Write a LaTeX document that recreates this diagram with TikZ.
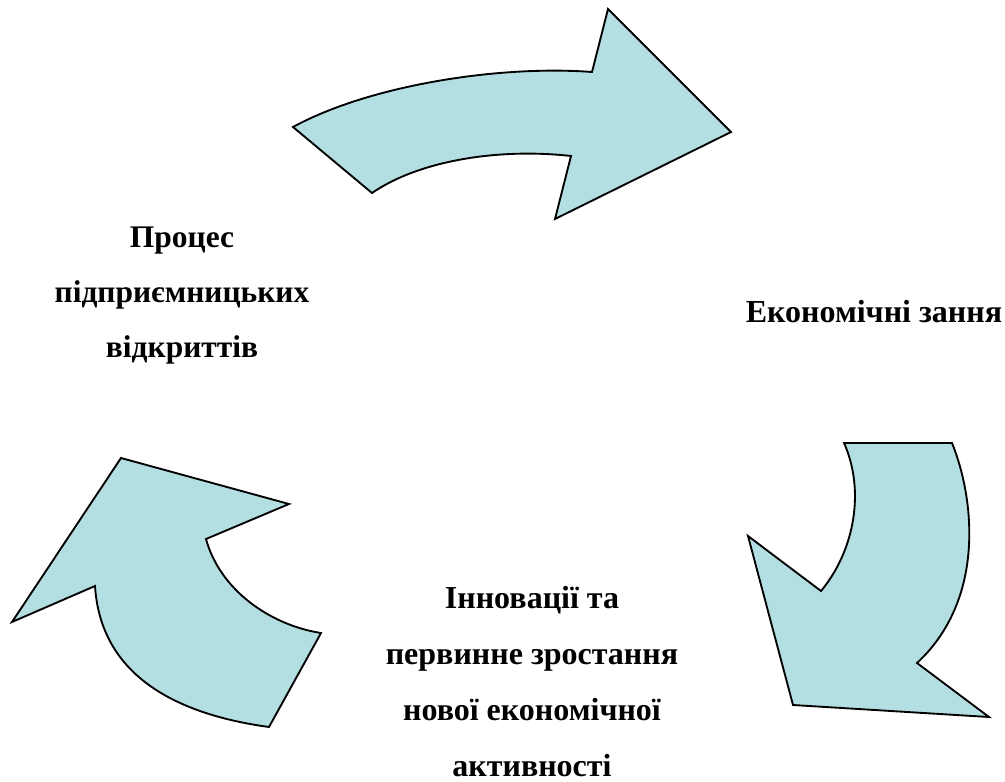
\documentclass[tikz,border=0pt]{standalone}
\usepackage{fontspec}
\setmainfont{Liberation Serif}
\tikzset{every picture/.style={line width=0.75pt}}
\tikzset{
arrowshape/.style={draw=black, line width=1.4pt, line join=miter, fill={rgb, 255:red, 180; green, 223; blue, 226 }},
stagelabel/.style={align=center, font=\bfseries\fontsize{23.6}{40.9}\selectfont, inner sep=0pt, anchor=base},
stagelabelwide/.style={align=center, font=\bfseries\fontsize{24}{42}\selectfont, inner sep=0pt, anchor=base}}

\begin{document}
\begin{tikzpicture}[x=0.75pt,y=0.75pt,yscale=-1,xscale=1]
\useasboundingbox (0,0) rectangle (1005,781);

%Shape: Curved Arrow top [id:dp1]
\draw [arrowshape] (293,127) .. controls (370,85) and (500,65) .. (592,72) -- (608,9) -- (731,132) -- (555,219) -- (571,156) .. controls (500,148) and (420,160) .. (372,193) -- cycle ;
%Shape: Curved Arrow right [id:dp2]
\draw [arrowshape] (952,443) .. controls (975,500) and (985,600) .. (917,663) -- (989,717) -- (793,705) -- (748,536) -- (821,591) .. controls (855,550) and (865,490) .. (844,443) -- cycle ;
%Shape: Curved Arrow left [id:dp3]
\draw [arrowshape] (269,727) .. controls (160,712) and (100,665) .. (95,586) -- (12,622) -- (121,458) -- (289,504) -- (206,539) .. controls (220,590) and (270,625) .. (321,633) -- cycle ;

% Text Node
\draw (182,357) node [stagelabel] (discovery) {Процес\\підприємницьких\\відкриттів};
% Text Node
\draw (874,322) node [stagelabelwide] (knowledge) {Економічні зання};
% Text Node
\draw (532,776) node [stagelabelwide] (innovation) {Інновації та\\первинне зростання\\нової економічної\\активності};

\end{tikzpicture}
\end{document}
